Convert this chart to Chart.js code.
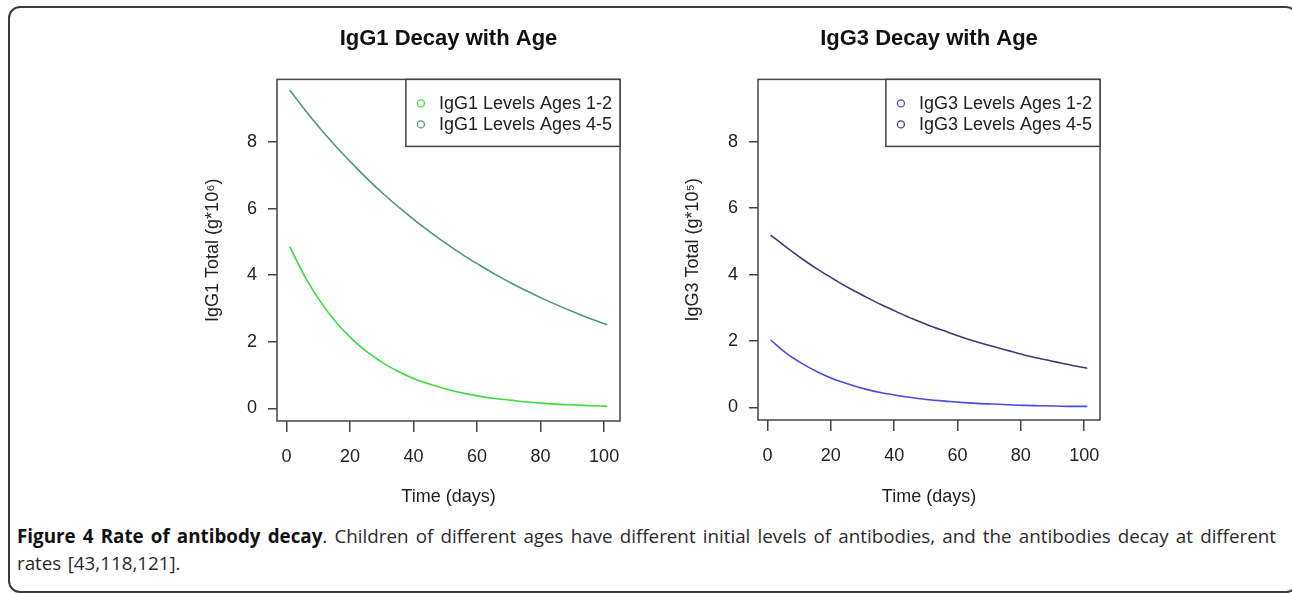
<!DOCTYPE html>
<html>
<head>
<meta charset="utf-8">
<script src="https://cdn.jsdelivr.net/npm/chart.js@4.4.0/dist/chart.umd.min.js"></script>
<style>
  html, body { margin: 0; padding: 0; background: #fff; overflow: hidden; }
  body { width: 1292px; height: 593px; position: relative; }
  .frame {
    position: absolute; left: 8px; top: 6px; width: 1290px; height: 587px;
    border: 2px solid #3c3c3c; border-radius: 12px; box-sizing: border-box;
  }
  .panel { position: absolute; top: 15px; }
  #leftPanel { left: 180px; }
  #rightPanel { left: 660px; }
  .caption {
    position: absolute; left: 17px; top: 523px; width: 1259px;
    font-family: "Open Sans", "Noto Sans", sans-serif; font-size: 18.8px;
    word-spacing: 1.5px;
    line-height: 27px; color: #2a2a2a; text-align: justify;
  }
  .caption b { color: #111; }
</style>
</head>
<body>
<div class="frame"></div>
<div class="panel" id="leftPanel"><canvas id="igg1Chart" width="470" height="505"></canvas></div>
<div class="panel" id="rightPanel"><canvas id="igg3Chart" width="470" height="505"></canvas></div>
<div class="caption"><b>Figure 4 Rate of antibody decay</b>. Children of different ages have different initial levels of antibodies, and the antibodies decay at different rates [43,118,121].</div>

<script>
// Days sampled along the curves
const days = [1, 6, 11, 16, 21, 26, 31, 36, 41, 46, 51, 56, 61, 66, 71, 76, 81, 86, 91, 96, 101];
const xTicks = [0, 20, 40, 60, 80, 100];
const yTicks = [0, 2, 4, 6, 8];

// IgG1 totals (g*10^6)
const igg1Ages12 = [4.86, 3.92, 3.16, 2.54, 2.05, 1.65, 1.33, 1.07, 0.86, 0.70, 0.56, 0.45, 0.36, 0.29, 0.24, 0.19, 0.15, 0.12, 0.10, 0.08, 0.06];
const igg1Ages45 = [9.56, 8.94, 8.36, 7.82, 7.32, 6.84, 6.40, 5.99, 5.60, 5.24, 4.90, 4.58, 4.29, 4.01, 3.75, 3.51, 3.28, 3.07, 2.87, 2.68, 2.51];

// IgG3 totals (g*10^5)
const igg3Ages12 = [2.03, 1.63, 1.32, 1.06, 0.85, 0.69, 0.55, 0.44, 0.36, 0.29, 0.23, 0.19, 0.15, 0.12, 0.10, 0.08, 0.06, 0.05, 0.04, 0.03, 0.03];
const igg3Ages45 = [5.19, 4.82, 4.47, 4.15, 3.86, 3.58, 3.33, 3.09, 2.87, 2.66, 2.47, 2.30, 2.13, 1.98, 1.84, 1.71, 1.58, 1.47, 1.37, 1.27, 1.18];

const FONT = '"Liberation Sans", Arial, "DejaVu Sans", sans-serif';
const AXIS_COLOR = '#444';
const TEXT_COLOR = '#222';

// Draws the R-style box around the plot and the boxed legend in the top-right corner
const boxLegend = {
    id: 'boxLegend',
    afterDraw(chart) {
        const ctx = chart.ctx;
        const a = chart.chartArea;
        ctx.save();
        ctx.strokeStyle = AXIS_COLOR;
        ctx.lineWidth = 1.5;
        ctx.strokeRect(a.left, a.top, a.right - a.left, a.bottom - a.top);

        ctx.font = '18px ' + FONT;
        const sets = chart.data.datasets;
        const textW = Math.max(...sets.map(d => ctx.measureText(d.label).width));
        const w = 33 + textW + 8;
        const h = 67;
        const x0 = a.right - w;
        const y0 = a.top;
        ctx.fillStyle = '#fff';
        ctx.fillRect(x0, y0, w, h);
        ctx.strokeRect(x0, y0, w, h);

        sets.forEach((d, i) => {
            const cy = y0 + 24 + i * 21;
            ctx.beginPath();
            ctx.arc(x0 + 15, cy, 3.5, 0, Math.PI * 2);
            ctx.strokeStyle = d.borderColor;
            ctx.lineWidth = 1.3;
            ctx.stroke();
            ctx.fillStyle = TEXT_COLOR;
            ctx.textBaseline = 'middle';
            ctx.textAlign = 'left';
            ctx.fillText(d.label, x0 + 33, cy + 1);
        });
        ctx.restore();
    }
};

function toPoints(values) {
    return days.map((d, i) => ({ x: d, y: values[i] }));
}

function makeChart(canvasId, title, yTitle, series, yAxisWidth, xAxisHeight) {
    const ctx = document.getElementById(canvasId).getContext('2d');
    return new Chart(ctx, {
        type: 'line',
        data: {
            datasets: series.map(s => ({
                label: s.label,
                data: toPoints(s.values),
                borderColor: s.color,
                backgroundColor: s.color,
                borderWidth: 1.6,
                pointRadius: 0,
                fill: false,
                cubicInterpolationMode: 'monotone'
            }))
        },
        options: {
            responsive: false,
            animation: false,
            devicePixelRatio: 1,
            layout: { padding: { left: 0, right: 30, top: 0, bottom: 0 } },
            plugins: {
                legend: { display: false },
                tooltip: { enabled: false },
                title: {
                    display: true,
                    text: title,
                    fullSize: false,
                    color: '#111',
                    font: { family: FONT, size: 22, weight: 'bold' },
                    padding: { top: 11, bottom: 27 }
                }
            },
            scales: {
                x: {
                    type: 'linear',
                    min: -3,
                    max: 105,
                    afterBuildTicks: scale => { scale.ticks = xTicks.map(v => ({ value: v })); },
                    afterFit: scale => { scale.height = xAxisHeight; },
                    ticks: { color: TEXT_COLOR, font: { family: FONT, size: 18 }, padding: 14, maxRotation: 0, autoSkip: false },
                    grid: { display: true, drawOnChartArea: false, drawTicks: true, tickLength: 11, color: AXIS_COLOR, lineWidth: 1.5 },
                    border: { display: false },
                    title: {
                        display: true,
                        text: 'Time (days)',
                        color: TEXT_COLOR,
                        font: { family: FONT, size: 18 },
                        padding: { top: 0, bottom: 12 }
                    }
                },
                y: {
                    type: 'linear',
                    min: -0.38,
                    max: 9.88,
                    afterBuildTicks: scale => { scale.ticks = yTicks.map(v => ({ value: v })); },
                    afterFit: scale => { scale.width = yAxisWidth; },
                    ticks: { color: TEXT_COLOR, font: { family: FONT, size: 18 }, padding: 11 },
                    grid: { display: true, drawOnChartArea: false, drawTicks: true, tickLength: 9, color: AXIS_COLOR, lineWidth: 1.5 },
                    border: { display: false },
                    title: {
                        display: true,
                        text: yTitle,
                        color: TEXT_COLOR,
                        font: { family: FONT, size: 18 },
                        padding: { top: 22, bottom: 0 }
                    }
                }
            }
        },
        plugins: [boxLegend]
    });
}

makeChart('igg1Chart', 'IgG1 Decay with Age', 'IgG1 Total (g*10\u2076)', [
    { label: 'IgG1 Levels Ages 1-2', values: igg1Ages12, color: '#3ddc3d' },
    { label: 'IgG1 Levels Ages 4-5', values: igg1Ages45, color: '#4f9684' }
], 97, 99);

makeChart('igg3Chart', 'IgG3 Decay with Age', 'IgG3 Total (g*10\u2075)', [
    { label: 'IgG3 Levels Ages 1-2', values: igg3Ages12, color: '#4a4ae0' },
    { label: 'IgG3 Levels Ages 4-5', values: igg3Ages45, color: '#3d3a7a' }
], 98, 100);
</script>
</body>
</html>
